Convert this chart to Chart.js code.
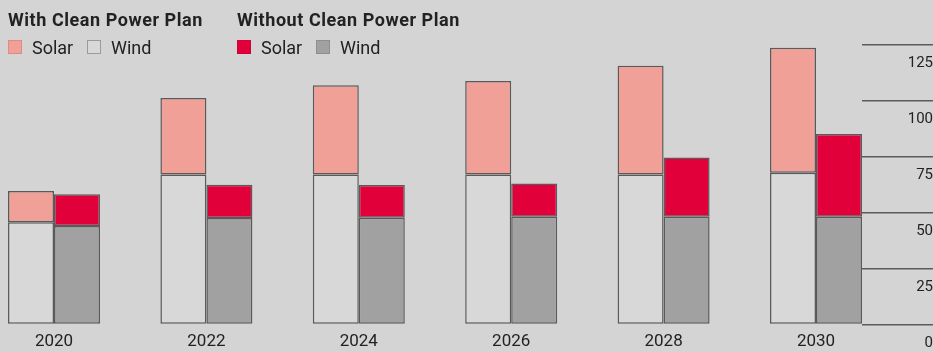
<!DOCTYPE html>
<html>
<head>
<meta charset="utf-8">
<script src="https://cdn.jsdelivr.net/npm/chart.js@4/dist/chart.umd.min.js"></script>
<style>
    body { margin: 0; background: #d4d4d5; font-family: Roboto, sans-serif; color: #222; }
    #wrap { position: relative; width: 933px; height: 352px; }
    canvas { position: absolute; left: 0; top: 0; }
    .leyenda { position: absolute; top: 0; }
    .titulo { position: absolute; top: 11px; left: 0; font-weight: 700; font-size: 18px; line-height: 18px; letter-spacing: 0.55px; white-space: nowrap; }
    .item { position: absolute; top: 39px; font-size: 18px; line-height: 18px; white-space: nowrap; }
    .caja { position: absolute; top: 40px; width: 14px; height: 14px; box-sizing: border-box; border: 1.5px solid; }
</style>
</head>
<body>
<div id="wrap">
    <canvas id="energiaChart" width="933" height="352"></canvas>

    <div class="leyenda" style="left: 8px;">
        <div class="titulo">With Clean Power Plan</div>
        <div class="caja" style="left: 0; background: #f0a096; border-color: #e08a82;"></div>
        <div class="item" style="left: 24px;">Solar</div>
        <div class="caja" style="left: 79px; background: #d8d8d8; border-color: #9a9a9a;"></div>
        <div class="item" style="left: 103px;">Wind</div>
    </div>
    <div class="leyenda" style="left: 237px;">
        <div class="titulo">Without Clean Power Plan</div>
        <div class="caja" style="left: 0; background: #e2003b; border-color: #d0003a;"></div>
        <div class="item" style="left: 24px;">Solar</div>
        <div class="caja" style="left: 79px; background: #a1a1a1; border-color: #8e8e8e;"></div>
        <div class="item" style="left: 103px;">Wind</div>
    </div>
</div>

<script>
// Capacity by year (GW), with and without the Clean Power Plan
const years = [2020, 2022, 2024, 2026, 2028, 2030];
const windWith = [45.7, 67, 67, 67, 67, 67.7];
const solarWith = [13.9, 34.1, 39.8, 41.7, 48.5, 55.9];
const windWithout = [44, 47.5, 47.7, 48.1, 48.1, 48.1];
const solarWithout = [14.2, 14.9, 14.6, 14.9, 26.4, 37];
const yTicks = [0, 25, 50, 75, 100, 125];

const BORDE = '#5a5a5a';

function serie(label, values, stack, color) {
    return {
        label: label,
        data: years.map((year, i) => ({ x: year, y: values[i] })),
        stack: stack,
        backgroundColor: color,
        borderColor: BORDE,
        borderWidth: 1.5,
        borderSkipped: false,
        categoryPercentage: 0.6037,
        barPercentage: 1
    };
}

function inicializarGrafica() {
    const ctx = document.getElementById('energiaChart').getContext('2d');
    Chart.defaults.font.family = 'Roboto';
    Chart.defaults.color = '#222';

    new Chart(ctx, {
        type: 'bar',
        data: {
            datasets: [
                serie('Wind', windWith, 'with', '#d8d8d8'),
                serie('Solar', solarWith, 'with', '#f0a096'),
                serie('Wind', windWithout, 'without', '#a1a1a1'),
                serie('Solar', solarWithout, 'without', '#e2003b')
            ]
        },
        options: {
            responsive: false,
            animation: false,
            layout: { padding: { top: 44.5, left: 0, right: 0, bottom: 0 } },
            plugins: {
                legend: { display: false },
                tooltip: { enabled: false }
            },
            scales: {
                x: {
                    type: 'linear',
                    stacked: true,
                    offset: false,
                    min: 2019.2913,
                    max: 2030.6037,
                    afterBuildTicks: (scale) => {
                        scale.ticks = years.map(v => ({ value: v }));
                    },
                    afterFit: (scale) => { scale.height = 27.5; },
                    grid: { display: false, drawTicks: false, offset: false },
                    border: { display: false },
                    ticks: {
                        callback: (v) => String(v),
                        font: { size: 17 },
                        padding: 7,
                        maxRotation: 0,
                        autoSkip: false
                    }
                },
                y: {
                    position: 'right',
                    stacked: true,
                    min: 0,
                    max: 125,
                    afterBuildTicks: (scale) => {
                        scale.ticks = yTicks.map(v => ({ value: v }));
                    },
                    afterFit: (scale) => { scale.width = 71; },
                    grid: {
                        drawOnChartArea: false,
                        drawTicks: true,
                        tickLength: 71,
                        color: '#5c5c5c',
                        lineWidth: 1.5
                    },
                    border: { display: false },
                    ticks: {
                        crossAlign: 'far',
                        labelOffset: 19,
                        padding: 0,
                        font: { size: 15 }
                    }
                }
            }
        }
    });
}

document.addEventListener('DOMContentLoaded', () => {
    inicializarGrafica();
});
</script>
</body>
</html>
